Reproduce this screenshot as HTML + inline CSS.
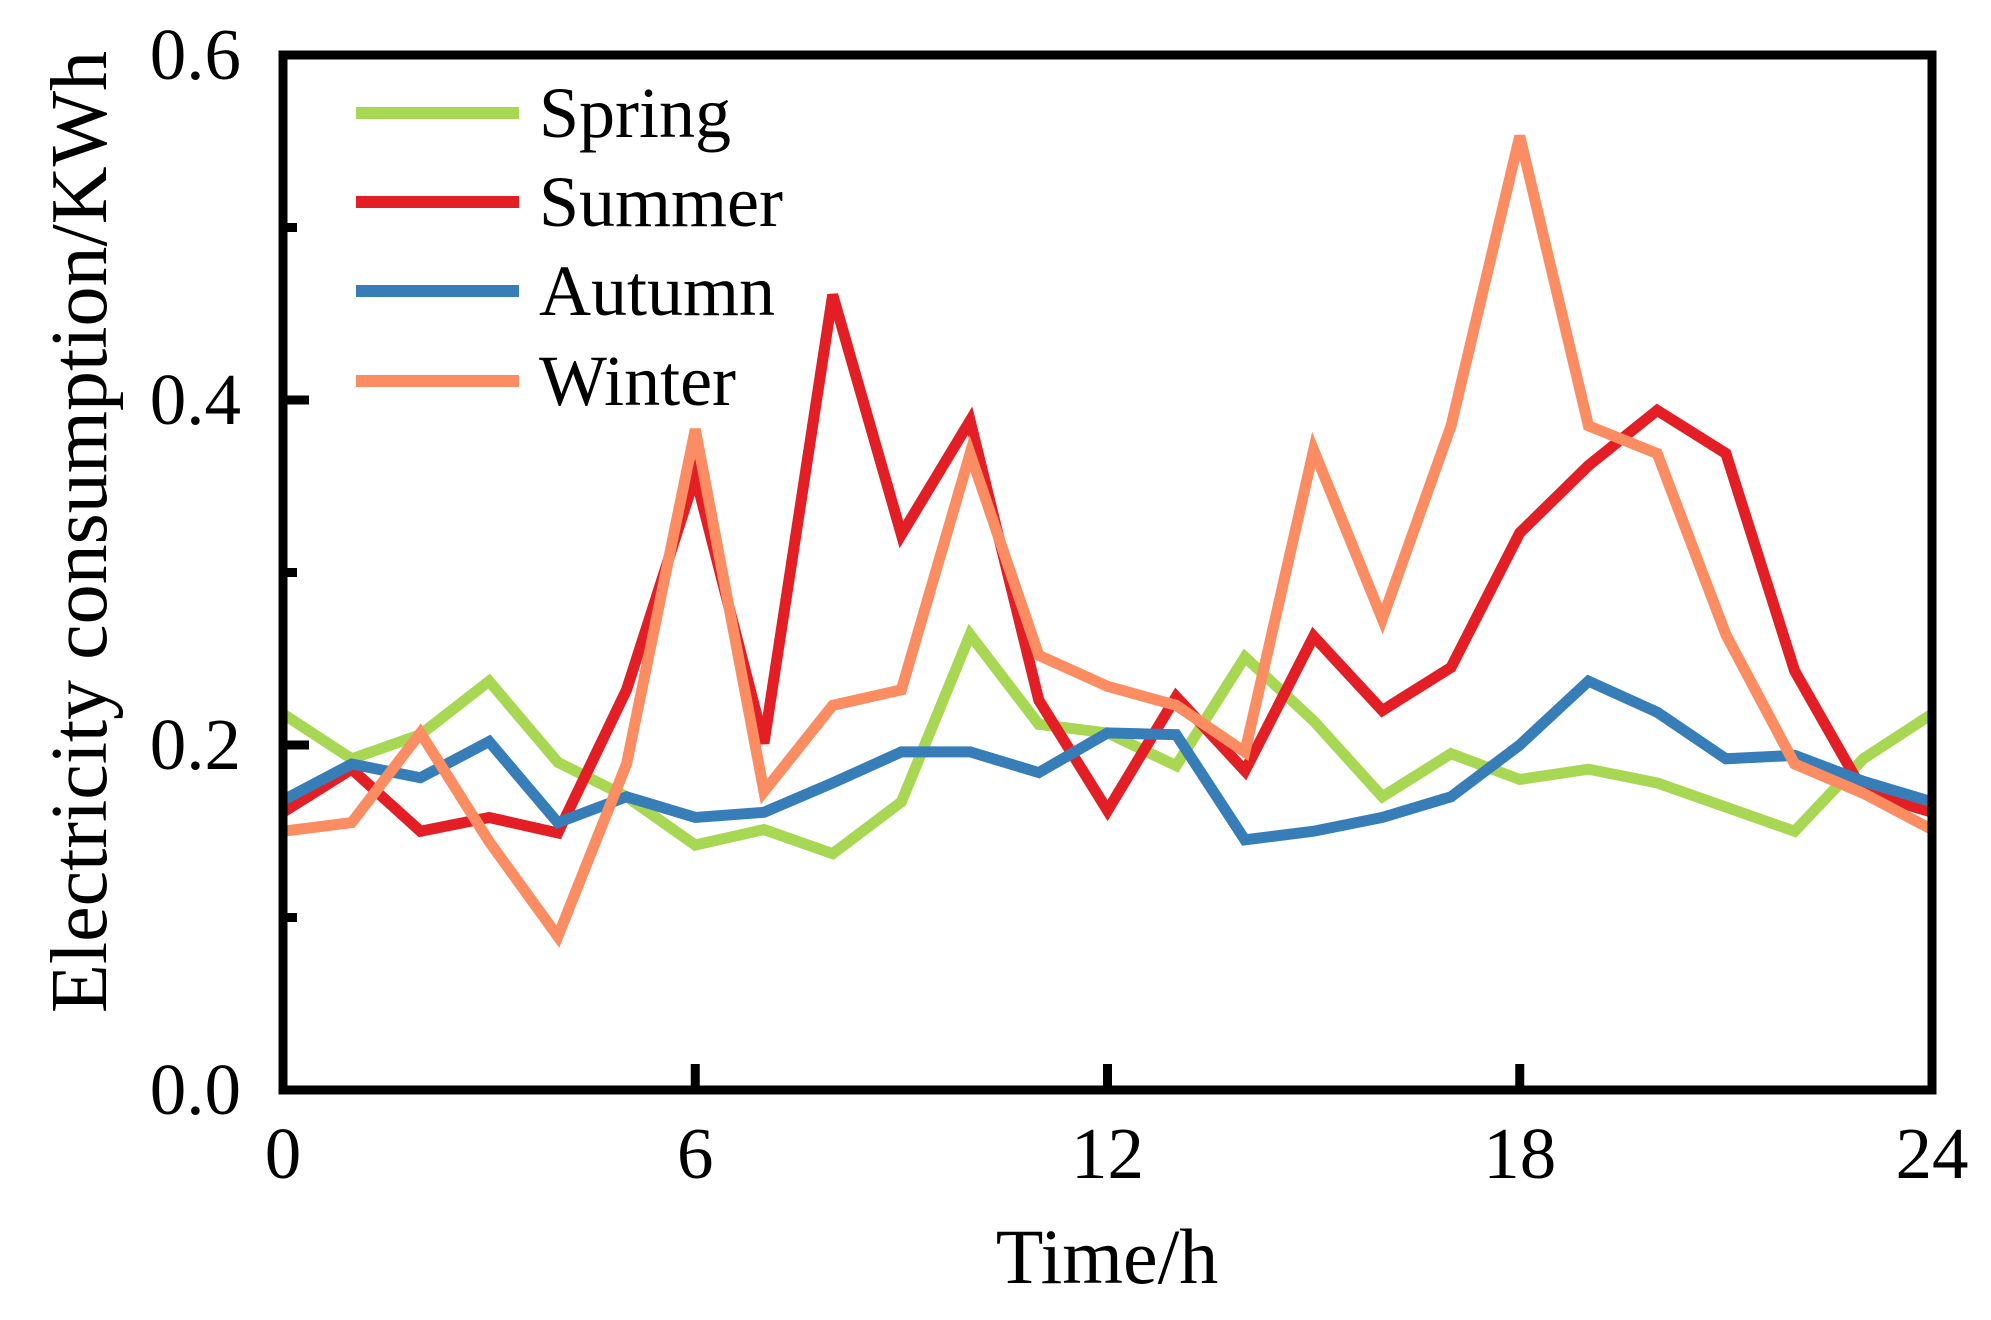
<!DOCTYPE html>
<html><head><meta charset="utf-8"><style>
html,body{margin:0;padding:0;background:#fff;}
svg text{font-family:"Liberation Serif",serif;fill:#000;}
</style></head><body>
<svg id="chart" width="1991" height="1315" viewBox="0 0 1991 1315" xmlns="http://www.w3.org/2000/svg">
<g id="marks"></g>
<g id="axes"></g>
<g id="legend"></g>
<text x="1107" y="1283" font-size="78" text-anchor="middle">Time/h</text>
<text transform="translate(106,532) rotate(-90)" font-size="80" text-anchor="middle">Electricity consumption/KWh</text>
</svg>
<script>
const hours = [0,1,2,3,4,5,6,7,8,9,10,11,12,13,14,15,16,17,18,19,20,21,22,23,24];
const spring = [0.218,0.192,0.206,0.237,0.19,0.17,0.142,0.151,0.137,0.167,0.264,0.212,0.207,0.188,0.251,0.214,0.17,0.195,0.18,0.186,0.178,0.164,0.15,0.192,0.218];
const summer = [0.161,0.186,0.15,0.158,0.149,0.232,0.356,0.201,0.461,0.322,0.388,0.226,0.162,0.228,0.185,0.263,0.22,0.245,0.323,0.362,0.394,0.369,0.243,0.173,0.161];
const autumn = [0.168,0.189,0.181,0.202,0.155,0.17,0.158,0.161,0.178,0.196,0.196,0.184,0.207,0.206,0.145,0.15,0.158,0.17,0.2,0.237,0.219,0.192,0.194,0.179,0.167];
const winter = [0.15,0.155,0.207,0.144,0.089,0.189,0.383,0.173,0.223,0.232,0.369,0.252,0.234,0.223,0.196,0.371,0.273,0.385,0.553,0.385,0.369,0.264,0.189,0.172,0.151];
const xTicks = [0,6,12,18,24];
const yMajor = [0,0.2,0.4,0.6];
const yMinor = [0.1,0.3,0.5];
const yLabels = ["0.0","0.2","0.4","0.6"];
const seriesNames = ["Spring","Summer","Autumn","Winter"];

const NS = "http://www.w3.org/2000/svg";
const X0=283, X1=1932, Y0=1090, Y1=55;
const xs = v => X0 + (v-0)/(24-0)*(X1-X0);
const ys = v => Y0 - (v-0)/(0.6-0)*(Y0-Y1);
function mk(tag, attrs, parent){const e=document.createElementNS(NS,tag);for(const k in attrs)e.setAttribute(k,attrs[k]);parent.appendChild(e);return e;}

const colors = ["#a8d853","#e31e24","#377eb8","#fc8d62"];
const allSeries = [spring, summer, autumn, winter];
const marks = document.getElementById('marks');
allSeries.forEach((s,i)=>{
  const p = mk('polyline',{points:s.map((v,j)=>xs(hours[j])+','+ys(v)).join(' '),fill:'none',stroke:colors[i],'stroke-width':11,'stroke-linejoin':'miter','stroke-miterlimit':4},marks);
  
  
});

const axes = document.getElementById('axes');
const frame = mk('rect',{x:X0,y:Y1,width:X1-X0,height:Y0-Y1,fill:'none',stroke:'#000','stroke-width':9},axes);


xTicks.forEach(t=>{
  const l = mk('line',{x1:xs(t),x2:xs(t),y1:Y0,y2:Y0-26,stroke:'#000','stroke-width':9},axes);
  
  
  const tx = mk('text',{x:xs(t),y:1178,'font-size':73,'text-anchor':'middle'},axes);
  tx.textContent = String(t);
  
  
});
yMajor.forEach((t,i)=>{
  const l = mk('line',{x1:X0,x2:X0+26,y1:ys(t),y2:ys(t),stroke:'#000','stroke-width':9},axes);
  
  
  const tx = mk('text',{x:241,y:ys(t)+24,'font-size':73,'text-anchor':'end'},axes);
  tx.textContent = yLabels[i];
  
  
});
yMinor.forEach(t=>{
  const l = mk('line',{x1:X0,x2:X0+14,y1:ys(t),y2:ys(t),stroke:'#000','stroke-width':9},axes);
  
  
});

const legend = document.getElementById('legend');
const legY = [113,202,291,381];
seriesNames.forEach((n,i)=>{
  const l = mk('line',{x1:356,x2:519,y1:legY[i],y2:legY[i],stroke:colors[i],'stroke-width':12},legend);
  
  
  const tx = mk('text',{x:539,y:legY[i]+24,'font-size':72},legend);
  tx.textContent = n;
  
  
});
</script>
</body></html>
